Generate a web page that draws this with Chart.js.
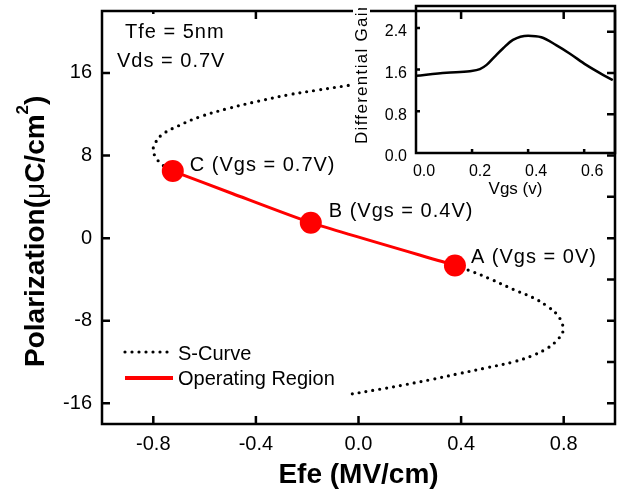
<!DOCTYPE html>
<html>
<head>
<meta charset="utf-8">
<script src="https://cdn.jsdelivr.net/npm/chart.js@4.4.1/dist/chart.umd.min.js"></script>
<style>
  html, body { margin: 0; padding: 0; background: #fff; }
  #wrap { position: relative; width: 628px; height: 496px; overflow: hidden; }
  #main { position: absolute; left: 0; top: 0; }
  #inset { position: absolute; left: 330px; top: 0; }
</style>
</head>
<body>
<div id="wrap">
  <canvas id="main" width="628" height="496"></canvas>
  <canvas id="inset" width="298" height="210"></canvas>
</div>
<script>
// ---- Polarization vs. field (S-curve), upper branch ending at C ----
const SC_UP_X = [-0.04, -0.157, -0.274, -0.39, -0.508, -0.618, -0.703, -0.767, -0.796, -0.80, -0.793, -0.767, -0.724];
const SC_UP_Y = [14.79, 14.35, 13.88, 13.27, 12.56, 11.76, 10.87, 10.0, 9.05, 8.5, 7.94, 7.14, 6.5];
// lower branch starting at A
const SC_LO_X = [0.376, 0.448, 0.519, 0.604, 0.681, 0.734, 0.773, 0.792, 0.798, 0.779, 0.740, 0.681, 0.604, 0.50, 0.396, 0.292, 0.188, 0.084, -0.046];
const SC_LO_Y = [-2.64, -3.28, -4.01, -4.97, -5.77, -6.56, -7.36, -8.16, -8.95, -9.75, -10.6, -11.34, -11.98, -12.55, -13.1, -13.65, -14.16, -14.63, -15.17];

// operating region (C -> B -> A)
const OP_X = [-0.724, -0.49, -0.186, 0.376];
const OP_Y = [6.5, 4.3, 1.5, -2.64];

// marked bias points
const MARK_X = [-0.724, -0.186, 0.376];
const MARK_Y = [6.5, 1.5, -2.64];
const MARK_LABELS = ['C (Vgs = 0.7V)', 'B (Vgs = 0.4V)', 'A (Vgs = 0V)'];

// axis ticks
const TICK_X = [-0.8, -0.4, 0, 0.4, 0.8];
const TICK_Y = [-16, -8, 0, 8, 16];
const TICK_Y_RIGHT = [-16, -12, -8, -4, 0, 4, 8, 12, 16, 20];

// ---- inset: differential gain vs. Vgs ----
const GAIN_VGS = [0, 0.109, 0.192, 0.228, 0.252, 0.281, 0.311, 0.346, 0.40, 0.447, 0.50, 0.548, 0.607, 0.667, 0.702];
const GAIN_VAL = [1.48, 1.54, 1.57, 1.61, 1.69, 1.85, 2.01, 2.17, 2.25, 2.22, 2.07, 1.91, 1.69, 1.50, 1.40];
const INSET_TICK_X = [0, 0.2, 0.4, 0.6];
const INSET_TICK_Y = [0, 0.8, 1.6, 2.4];

const FONT = "'Liberation Sans', Arial, Helvetica, sans-serif";
Chart.defaults.font.family = FONT;
Chart.defaults.color = '#000';

const toPts = (xs, ys) => xs.map((x, i) => ({ x, y: ys[i] }));
const fixTicks = arr => scale => { scale.ticks = arr.map(v => ({ value: v })); };
const noPad = size => scale => {
  if (scale.isHorizontal()) scale.height = size; else scale.width = size;
  scale.paddingTop = scale.paddingBottom = scale.paddingLeft = scale.paddingRight = 0;
};

const dotted = {
  showLine: true, borderColor: '#000', borderWidth: 3.2, borderDash: [0, 7],
  borderCapStyle: 'round', pointRadius: 0, tension: 0.4, fill: false
};

function strokeTicks(ctx, list) {
  ctx.beginPath();
  for (const [x1, y1, x2, y2] of list) { ctx.moveTo(x1, y1); ctx.lineTo(x2, y2); }
  ctx.stroke();
}

const mainDecor = {
  id: 'mainDecor',
  afterDraw(chart) {
    const { ctx, chartArea: a, scales: { x, y } } = chart;
    ctx.save();
    ctx.strokeStyle = '#000';
    ctx.lineWidth = 2.5;
    const L = 8, segs = [];
    TICK_X.forEach(v => {
      const px = x.getPixelForValue(v);
      segs.push([px, a.bottom, px, a.bottom - L], [px, a.top, px, a.top + L]);
    });
    TICK_Y.forEach(v => { const py = y.getPixelForValue(v); segs.push([a.left, py, a.left + L, py]); });
    TICK_Y_RIGHT.forEach(v => { const py = y.getPixelForValue(v); segs.push([a.right, py, a.right - L, py]); });
    strokeTicks(ctx, segs);
    ctx.strokeRect(a.left, a.top, a.right - a.left, a.bottom - a.top);

    // device parameters text block
    ctx.fillStyle = '#fff';
    ctx.fillRect(a.left + 9, a.top + 3, 124, 62);
    ctx.fillStyle = '#000';
    ctx.font = '20px ' + FONT;
    ctx.textAlign = 'left';
    ctx.textBaseline = 'alphabetic';
    ctx.letterSpacing = '1px';
    ctx.fillText('Tfe = 5nm', a.left + 23, a.top + 27);
    ctx.fillText('Vds = 0.7V', a.left + 15, a.top + 56);

    // bias point labels
    const shift = [[17, 0], [18, -6], [16, -2]];
    MARK_LABELS.forEach((t, i) => {
      const px = x.getPixelForValue(MARK_X[i]), py = y.getPixelForValue(MARK_Y[i]);
      ctx.fillText(t, px + shift[i][0], py + shift[i][1]);
    });
    ctx.letterSpacing = '0px';

    // legend
    const ds = chart.data.datasets;
    const sc = ds[2], op = ds[1];
    ctx.lineCap = sc.borderCapStyle;
    ctx.setLineDash(sc.borderDash);
    ctx.lineWidth = sc.borderWidth;
    ctx.strokeStyle = sc.borderColor;
    ctx.beginPath(); ctx.moveTo(125, 352); ctx.lineTo(169, 352); ctx.stroke();
    ctx.setLineDash([]);
    ctx.lineCap = 'butt';
    ctx.lineWidth = 4;
    ctx.strokeStyle = op.borderColor;
    ctx.beginPath(); ctx.moveTo(125, 378); ctx.lineTo(173, 378); ctx.stroke();
    ctx.fillStyle = '#000';
    ctx.font = '20px ' + FONT;
    ctx.fillText(sc.label, 178, 360);
    ctx.fillText(op.label, 178, 385);

    // y-axis title with superscript
    ctx.translate(44, 367);
    ctx.rotate(-Math.PI / 2);
    let tx = 0;
    const part = (t, f, dy) => { ctx.font = f; ctx.fillText(t, tx, dy); tx += ctx.measureText(t).width; };
    const B28 = 'bold 28px ' + FONT;
    part('Polarization(', B28, 0);
    part('\u03bc', '28px ' + FONT, 0);
    part('C/cm', B28, 0);
    part('2', 'bold 17px ' + FONT, -16);
    part(')', B28, 0);
    ctx.restore();
  }
};

new Chart(document.getElementById('main'), {
  type: 'scatter',
  data: {
    datasets: [
      { label: 'Bias points', data: toPts(MARK_X, MARK_Y), pointRadius: 11, pointHoverRadius: 11,
        pointBackgroundColor: '#ff0000', pointBorderWidth: 0, showLine: false },
      { label: 'Operating Region', data: toPts(OP_X, OP_Y), showLine: true, borderColor: '#ff0000',
        borderWidth: 3, pointRadius: 0, tension: 0.2, fill: false },
      Object.assign({ label: 'S-Curve', data: toPts(SC_UP_X, SC_UP_Y) }, dotted),
      Object.assign({ label: 'S-Curve', data: toPts(SC_LO_X, SC_LO_Y) }, dotted)
    ]
  },
  options: {
    responsive: false,
    animation: false,
    events: [],
    layout: { padding: { top: 6, right: 13, left: 0, bottom: 0 } },
    plugins: { legend: { display: false }, tooltip: { enabled: false } },
    scales: {
      x: {
        type: 'linear', min: -1, max: 1,
        grid: { display: false, drawTicks: false }, border: { display: false },
        afterBuildTicks: fixTicks(TICK_X),
        afterFit: noPad(72),
        ticks: { font: { size: 20 }, padding: 8, maxRotation: 0, autoSkip: false,
                 callback: v => Number(v).toFixed(1) },
        title: { display: true, text: 'Efe (MV/cm)', font: { size: 28, weight: 'bold' },
                 padding: { top: 0, bottom: 4 } }
      },
      y: {
        type: 'linear', min: -18, max: 22,
        grid: { display: false, drawTicks: false }, border: { display: false },
        afterBuildTicks: fixTicks(TICK_Y),
        afterFit: noPad(102),
        ticks: { font: { size: 20 }, padding: 10, autoSkip: false, callback: v => String(v) }
      }
    }
  },
  plugins: [mainDecor]
});

const insetDecor = {
  id: 'insetDecor',
  afterDraw(chart) {
    const { ctx, chartArea: a, scales: { x, y } } = chart;
    ctx.save();
    ctx.strokeStyle = '#000';
    ctx.lineWidth = 2.5;
    const L = 4, segs = [];
    INSET_TICK_X.forEach(v => {
      const px = x.getPixelForValue(v);
      if (px > a.left + 2) segs.push([px, a.bottom, px, a.bottom - L]);
    });
    INSET_TICK_Y.forEach(v => {
      const py = y.getPixelForValue(v);
      if (py < a.bottom - 2) segs.push([a.left, py, a.left + L, py]);
    });
    strokeTicks(ctx, segs);
    ctx.strokeRect(a.left, a.top, a.right - a.left, a.bottom - a.top);

    // rotated y title, cut at the frame top
    ctx.fillStyle = '#fff';
    ctx.fillRect(23, 8, 17, 139);
    ctx.beginPath();
    ctx.rect(0, 8, a.left - 3, 200);
    ctx.clip();
    ctx.fillStyle = '#000';
    ctx.translate(37, 144);
    ctx.rotate(-Math.PI / 2);
    ctx.font = '17px ' + FONT;
    ctx.textAlign = 'left';
    ctx.textBaseline = 'alphabetic';
    ctx.letterSpacing = '1.3px';
    ctx.fillText('Differential Gain', 0, 0);
    ctx.restore();
  }
};

new Chart(document.getElementById('inset'), {
  type: 'scatter',
  data: {
    datasets: [{ label: 'Differential Gain', data: toPts(GAIN_VGS, GAIN_VAL), showLine: true,
                 borderColor: '#000', borderWidth: 2.5, pointRadius: 0,
                 cubicInterpolationMode: 'monotone', fill: false }]
  },
  options: {
    responsive: false,
    animation: false,
    events: [],
    layout: { padding: { top: 6, right: 13, left: 0, bottom: 0 } },
    plugins: { legend: { display: false }, tooltip: { enabled: false } },
    scales: {
      x: {
        type: 'linear', min: 0, max: 0.71,
        grid: { display: false, drawTicks: false }, border: { display: false },
        afterBuildTicks: fixTicks(INSET_TICK_X),
        afterFit: noPad(57),
        ticks: { font: { size: 16 }, padding: 9, labelOffset: 8, maxRotation: 0, autoSkip: false,
                 callback: v => Number(v).toFixed(1) },
        title: { display: true, text: 'Vgs (v)', font: { size: 17 }, padding: { top: 0, bottom: 10 } }
      },
      y: {
        type: 'linear', min: 0, max: 2.82,
        grid: { display: false, drawTicks: false }, border: { display: false },
        afterBuildTicks: fixTicks(INSET_TICK_Y),
        afterFit: noPad(86),
        ticks: { font: { size: 16 }, padding: 9, labelOffset: 4, autoSkip: false,
                 callback: v => Number(v).toFixed(1) }
      }
    }
  },
  plugins: [insetDecor]
});
</script>
</body>
</html>
